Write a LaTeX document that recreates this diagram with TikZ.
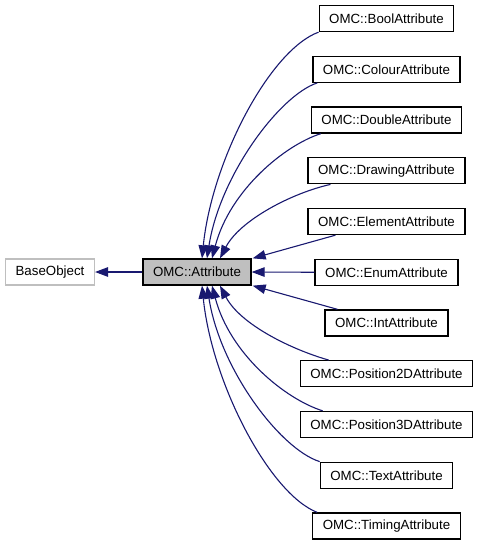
\documentclass[tikz,border=0pt]{standalone}
\usepackage{fontspec}
\setmainfont{Liberation Sans}
\usetikzlibrary{arrows.meta}
\definecolor{edgeblue}{HTML}{191970}
\definecolor{boxgray}{HTML}{BFBFBF}
\tikzset{
  cls/.style={draw=black, line width=1.33pt, fill=white, rectangle, inner xsep=10pt, inner ysep=0pt,
    minimum height=26pt, font=\fontsize{13.3}{16}\selectfont},
  basecls/.style={cls, draw=boxgray},
  curcls/.style={cls, fill=boxgray},
  edge/.style={draw=edgeblue, line width=1.1pt, -{Triangle[length=13pt,width=9.5pt]}}
}
\begin{document}
\begin{tikzpicture}[x=1pt,y=-1pt]
\useasboundingbox (0,0) rectangle (479,544);
\node[basecls] (base) at (50,272) {BaseObject};
\node[curcls] (attr) at (197,272) {OMC::Attribute};
\node[cls] (bool) at (386.5,18.5) {OMC::BoolAttribute};
\node[cls] (colour) at (386.5,69.25) {OMC::ColourAttribute};
\node[cls] (double) at (386.5,120) {OMC::DoubleAttribute};
\node[cls] (drawing) at (386.5,170.75) {OMC::DrawingAttribute};
\node[cls] (element) at (386.5,221.5) {OMC::ElementAttribute};
\node[cls] (enum) at (386.5,272.25) {OMC::EnumAttribute};
\node[cls] (int) at (386.5,323) {OMC::IntAttribute};
\node[cls] (pos2) at (386.5,373.75) {OMC::Position2DAttribute};
\node[cls] (pos3) at (386.5,424.5) {OMC::Position3DAttribute};
\node[cls] (text) at (386.5,475.25) {OMC::TextAttribute};
\node[cls] (timing) at (386.5,526) {OMC::TimingAttribute};

\draw[edge] (attr.west) -- (base.east);
\draw[edge] (bool.south west) .. controls (270,50) and (212,160) .. ([xshift=5pt]attr.north);
\draw[edge] ([xshift=5pt]colour.south west) .. controls (280,95) and (220,175) .. ([xshift=10pt]attr.north);
\draw[edge] ([xshift=10pt]double.south west) .. controls (285,145) and (230,190) .. ([xshift=15pt]attr.north);
\draw[edge] ([xshift=23pt]drawing.south west) .. controls (292,193) and (240,220) .. ([xshift=23pt]attr.north);
\draw[edge] ([xshift=28pt]element.south west) -- ([xshift=1pt]attr.north east);
\draw[edge] (enum.west) -- (attr.east);
\draw[edge] ([xshift=13pt]int.north west) -- ([xshift=1pt]attr.south east);
\draw[edge] ([xshift=29pt]pos2.north west) .. controls (290,349) and (240,324) .. ([xshift=23pt]attr.south);
\draw[edge] ([xshift=23pt]pos3.north west) .. controls (285,399) and (230,354) .. ([xshift=15pt]attr.south);
\draw[edge] (text.north west) .. controls (280,449) and (220,369) .. ([xshift=10pt]attr.south);
\draw[edge] ([xshift=5pt]timing.north west) .. controls (270,494) and (212,384) .. ([xshift=5pt]attr.south);
\end{tikzpicture}
\end{document}
